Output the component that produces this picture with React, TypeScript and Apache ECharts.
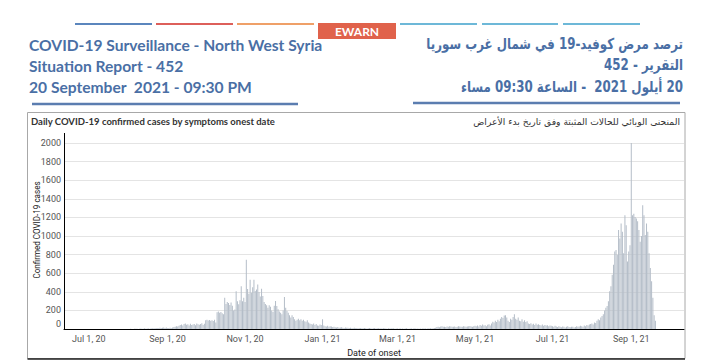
import React, { useEffect, useRef } from 'react';
import * as echarts from 'echarts';

// ---- data (daily confirmed cases by onset date) ----
const startDate = '2020-06-12';
const endDate = '2021-10-12';
const jun2020 = [0,0,0,0,0,0,0,0,0,0,0,0,0,0,0,0,0,0,0];
const jul2020 = [0,1,0,0,1,0,0,2,0,1,0,0,1,0,0,0,1,2,0,0,1,0,0,1,0,2,1,0,1,2,1];
const aug2020 = [2,1,3,0,2,4,3,5,2,4,6,3,5,8,4,6,7,5,9,8,6,10,12,8,10,14,11,15,18,12,16];
const sep2020 = [8,12,15,10,18,22,25,30,28,35,45,50,38,55,60,48,52,40,58,45,50,55,42,60,52,48,55,62,45,58];
const oct2020 = [96,100,92,98,90,95,88,100,70,180,190,175,185,170,160,337,270,290,280,260,285,250,200,210,408,300,266,310,461,300,337];
const nov2020 = [290,745,430,380,530,390,450,530,410,426,479,400,350,433,355,290,270,255,230,255,241,200,184,250,301,248,213,190,177,160];
const dec2020 = [200,344,230,195,177,150,124,150,130,106,89,100,110,95,105,90,100,85,80,95,70,60,55,50,60,45,55,40,35,50,45];
const jan2021 = [106,40,30,28,35,25,30,28,22,25,20,18,22,15,18,20,15,12,18,15,14,12,15,10,12,14,10,12,8,10,12];
const feb2021 = [10,8,12,9,7,10,12,8,6,9,11,7,10,8,6,9,7,10,8,6,5,8,7,9,6,8,5,7];
const mar2021 = [6,5,8,4,7,5,6,8,5,4,6,7,5,8,6,5,7,4,6,5,8,6,7,5,9,6,8,7,10,12,15];
const apr2021 = [22,25,20,28,30,24,26,22,28,25,30,27,24,26,29,22,25,30,28,26,24,30,28,25,27,30,32,28,26,30];
const may2021 = [35,30,40,28,45,35,50,38,42,30,48,53,40,60,80,70,90,75,100,85,110,130,120,145,150,125,90,75,110,100,130];
const jun2021 = [160,110,100,124,90,85,105,80,95,75,85,60,55,64,50,58,45,60,48,52,43,40,50,35,45,38,42,30,40,35];
const jul2021 = [30,25,35,28,22,30,26,20,28,24,18,25,30,22,20,26,24,18,22,30,26,28,35,30,25,40,30,45,38,50,55];
const aug2021 = [60,50,70,65,90,106,95,124,140,160,200,230,248,300,408,461,585,692,834,851,798,1064,975,1135,1046,816,1224,1117,727,834,900];
const sep2021 = [2011,1224,1241,1206,1188,1160,1064,940,1000,1330,1224,1011,1135,1046,816,656,514,337,150,90];

const monthNames = ['Jan','Feb','Mar','Apr','May','Jun','Jul','Aug','Sep','Oct','Nov','Dec'];
const yMax = 2000;
const yInterval = 200;

const titleEn = 'Daily COVID-19 confirmed cases by symptoms onest date';
const titleAr = 'المنحنى الوبائي للحالات المثبتة وفق تاريخ بدء الأعراض';
const headEn = ['COVID-19 Surveillance - North West Syria', 'Situation Report - 452', '20 September  2021 - 09:30 PM'];
const headAr = ['ترصد مرض كوفيد-19 في شمال غرب سوريا', 'التقرير - 452', '20 أيلول 2021  - الساعة 09:30 مساء'];
const yName = 'Confirmed COVID-19 cases';
const xName = 'Date of onset';

function buildDates(start: string, end: string): string[] {
  const out: string[] = [];
  const s = new Date(start + 'T00:00:00Z').getTime();
  const e = new Date(end + 'T00:00:00Z').getTime();
  for (let t = s; t <= e; t += 86400000) out.push(new Date(t).toISOString().slice(0, 10));
  return out;
}

const rtl = (s: string) => '\u202B' + s + '\u202C';

export default function App() {
  const ref = useRef<HTMLDivElement>(null);
  useEffect(() => {
    if (!ref.current) return;
    const chart = echarts.init(ref.current, null, { renderer: 'svg' });
    const dates = buildDates(startDate, endDate);
    const values = [
      ...jun2020, ...jul2020, ...aug2020, ...sep2020, ...oct2020, ...nov2020, ...dec2020,
      ...jan2021, ...feb2021, ...mar2021, ...apr2021, ...may2021, ...jun2021, ...jul2021, ...aug2021, ...sep2021,
    ];
    const isTick = (_i: number, v: string) => {
      const m = +v.slice(5, 7);
      return v.slice(8, 10) === '01' && m % 2 === 1;
    };
    const narrow = 'Roboto, sans-serif';
    const head = 'Lato, "Open Sans", sans-serif';
    const arab = '"DejaVu Sans", sans-serif';
    const blue = '#4a6fa5';
    const graphic: any[] = [
      { type: 'line', shape: { x1: 75, y1: 24, x2: 152, y2: 24 }, style: { stroke: '#5b86bd', lineWidth: 2 } },
      { type: 'line', shape: { x1: 156, y1: 24, x2: 233, y2: 24 }, style: { stroke: '#dd5f5a', lineWidth: 2 } },
      { type: 'line', shape: { x1: 237, y1: 24, x2: 314, y2: 24 }, style: { stroke: '#efa068', lineWidth: 2 } },
      { type: 'rect', shape: { x: 318, y: 23, width: 78, height: 16 }, style: { fill: '#e0624b' } },
      { type: 'text', x: 357, y: 31.5, style: { text: 'EWARN', fill: '#fff', fontSize: 12, fontWeight: 'bold', fontFamily: head, align: 'center', verticalAlign: 'middle' } },
      { type: 'line', shape: { x1: 400, y1: 24, x2: 477, y2: 24 }, style: { stroke: '#6db8d8', lineWidth: 2 } },
      { type: 'line', shape: { x1: 482, y1: 24, x2: 558, y2: 24 }, style: { stroke: '#6db8d8', lineWidth: 2 } },
      { type: 'line', shape: { x1: 563, y1: 24, x2: 640, y2: 24 }, style: { stroke: '#6db8d8', lineWidth: 2 } },
      ...headEn.map((t, i) => ({ type: 'text', x: 29, y: 45 + i * 21, style: { text: t, fill: blue, fontSize: 15.6, fontWeight: 'bold', fontFamily: head, align: 'left', verticalAlign: 'middle' } })),
      ...headAr.map((t, i) => ({ type: 'text', x: 683, y: 43 + i * 21.5, scaleX: 0.79, style: { text: rtl(t), fill: blue, fontSize: 15, fontWeight: 'bold', fontFamily: arab, align: 'right', verticalAlign: 'middle' } })),
      { type: 'line', shape: { x1: 32, y1: 104, x2: 298, y2: 104 }, style: { stroke: '#5b7db0', lineWidth: 2.5 } },
      { type: 'line', shape: { x1: 413, y1: 103, x2: 680, y2: 103 }, style: { stroke: '#5b7db0', lineWidth: 2.5 } },
      { type: 'rect', shape: { x: 27.5, y: 112.5, width: 657.5, height: 246 }, style: { fill: 'none', stroke: '#a8a8a8', lineWidth: 1 } },
      { type: 'line', shape: { x1: 27.5, y1: 359, x2: 685, y2: 359 }, style: { stroke: '#222', lineWidth: 1.5 } },
      { type: 'text', x: 31, y: 121.5, style: { text: titleEn, fill: '#333', fontSize: 9.5, fontWeight: 'bold', fontFamily: head, align: 'left', verticalAlign: 'middle' } },
      { type: 'text', x: 680, y: 121.5, style: { text: rtl(titleAr), fill: '#333', fontSize: 9.2, fontFamily: arab, align: 'right', verticalAlign: 'middle' } },
      { type: 'line', shape: { x1: 64.5, y1: 133, x2: 64.5, y2: 143 }, style: { stroke: '#000', lineWidth: 1 } },
      { type: 'text', x: 37, y: 230, rotation: Math.PI / 2, scaleX: 0.85, style: { text: yName, fill: '#222', fontSize: 9.5, fontFamily: narrow, align: 'center', verticalAlign: 'middle' } },
    ];
    chart.setOption({
      animation: false,
      grid: { left: 64, right: 29, top: 143, bottom: 32, containLabel: false },
      xAxis: {
        type: 'category',
        data: dates,
        boundaryGap: true,
        axisLine: { lineStyle: { color: '#000', width: 1 } },
        axisTick: { interval: isTick, alignWithLabel: true, length: 3, lineStyle: { color: '#000' } },
        axisLabel: {
          interval: isTick,
          margin: 5,
          color: '#555',
          fontSize: 9,
          fontFamily: narrow,
          formatter: (v: string) => `${monthNames[+v.slice(5, 7) - 1]} ${+v.slice(8, 10)}, ${v.slice(2, 4)}`,
        },
        name: xName,
        nameLocation: 'middle',
        nameGap: 17,
        nameTextStyle: { color: '#222', fontSize: 9, fontFamily: narrow },
        splitLine: { show: false },
      },
      yAxis: {
        type: 'value',
        min: 0,
        max: yMax,
        interval: yInterval,
        axisLine: { show: true, lineStyle: { color: '#000', width: 1 } },
        axisTick: { show: false },
        axisLabel: {
          margin: 3,
          color: '#555',
          fontSize: 9,
          fontFamily: narrow,
          formatter: (v: number) => (v === 0 ? '{z|0}' : String(v)),
          rich: { z: { color: '#555', fontSize: 9, fontFamily: narrow, padding: [0, 0, 10, 0] } },
        },
        splitLine: { lineStyle: { color: '#e4e4e4', width: 1 } },
      },
      series: [
        {
          type: 'bar',
          data: values,
          barCategoryGap: '25%',
          itemStyle: { color: '#b4bdc8' },
          silent: true,
        },
      ],
      graphic,
    });
    return () => chart.dispose();
  }, []);
  return <div ref={ref} style={{ position: 'fixed', left: 0, top: 0, width: 713, height: 362, background: '#fff' }} />;
}
